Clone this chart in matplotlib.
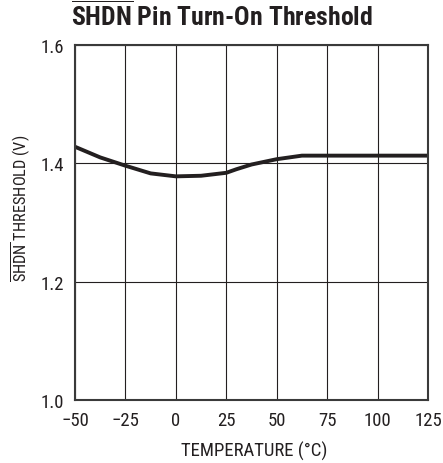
import matplotlib
matplotlib.use("Agg")
import matplotlib.pyplot as plt

# values
temperature = [-50, -37.5, -25, -12.5, 0, 12.5, 25, 30, 37.5, 50, 62.5, 75, 100, 125]
threshold = [1.428, 1.410, 1.396, 1.383, 1.378, 1.379, 1.384, 1.390, 1.398, 1.407, 1.413, 1.413, 1.413, 1.413]

x_ticks = [-50, -25, 0, 25, 50, 75, 100, 125]
x_labels = ["\u221250", "\u221225", "0", "25", "50", "75", "100", "125"]
y_ticks = [1.0, 1.2, 1.4, 1.6]

ink = "#231f20"
plt.rcParams["font.family"] = ["Roboto Condensed", "DejaVu Sans"]
plt.rcParams["mathtext.fontset"] = "custom"
plt.rcParams["mathtext.rm"] = "Roboto Condensed"
plt.rcParams["mathtext.bf"] = "Roboto Condensed:bold"

fig = plt.figure(figsize=(4.43, 4.64), dpi=100)
ax = fig.add_axes([75 / 443, 1 - 401 / 464, 353 / 443, 355 / 464])

ax.plot(temperature, threshold, color=ink, lw=2.8, solid_capstyle="butt")

ax.set_xlim(-50, 125)
ax.set_ylim(1.0, 1.6)
ax.set_xticks(x_ticks)
ax.set_xticklabels(x_labels)
ax.set_yticks(y_ticks)
ax.set_yticklabels([f"{v:.1f}" for v in y_ticks])
ax.grid(True, color=ink, lw=0.8)
ax.tick_params(length=0, labelsize=13.5, colors=ink)
ax.tick_params(axis="x", pad=8)
ax.tick_params(axis="y", pad=8)
for s in ax.spines.values():
    s.set_linewidth(1.5)
    s.set_color("#3a3a3a")

ax.set_xlabel("TEMPERATURE (\u00b0C)", fontsize=13.5, color=ink)
ax.xaxis.set_label_coords(0.507, -0.115)
ax.set_ylabel(r"$\overline{\mathrm{SHDN}}$ THRESHOLD (V)", fontsize=11.8, color=ink)
ax.yaxis.set_label_coords(-0.121, 0.542)
fig.text(0.501, 1 - 26 / 464, r"$\overline{\mathbf{SHDN}}$ Pin Turn-On Threshold", ha="center", va="baseline",
         fontsize=18.5, fontweight="bold", color=ink)

fig.savefig("out.png", dpi=100)
